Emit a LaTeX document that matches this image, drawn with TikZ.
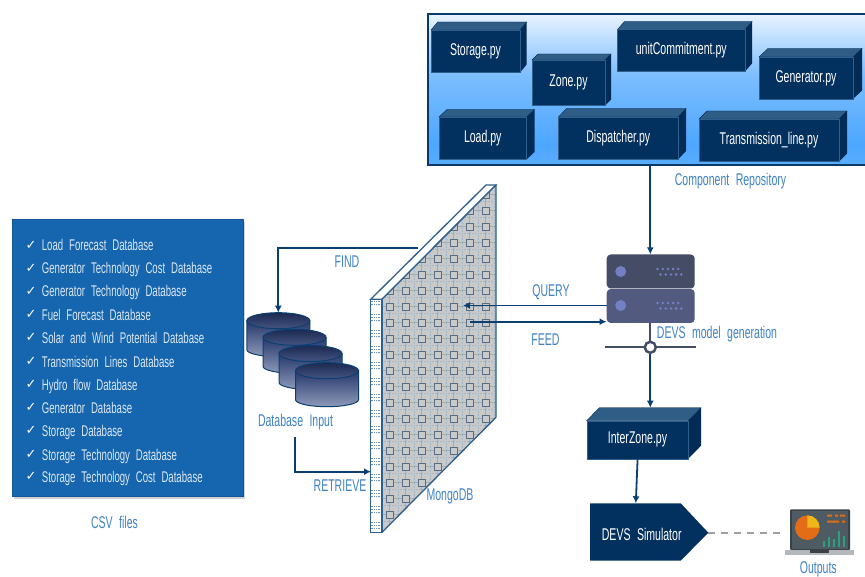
\documentclass[tikz,border=0pt]{standalone}
\usepackage{fontspec}
\setmainfont{Liberation Sans}[FakeStretch=0.62,WordSpace=2.2]
\usetikzlibrary{arrows.meta,shadows}
\definecolor{navy}{HTML}{03315F}
\definecolor{navytop}{HTML}{2F5D85}
\definecolor{navyside}{HTML}{022B55}
\definecolor{linkblue}{HTML}{0B3F72}
\definecolor{labelblue}{HTML}{3F82C6}
\definecolor{wallblue}{HTML}{2F5F8C}
\definecolor{csvblue}{HTML}{1565AF}
\definecolor{serverA}{HTML}{454C66}
\definecolor{serverB}{HTML}{525A80}
\definecolor{serverdot}{HTML}{7480C4}
\definecolor{cylL}{HTML}{8E9ABA}
\definecolor{cylD}{HTML}{25376A}
\definecolor{barcol}{HTML}{2AA07E}
\definecolor{screencol}{HTML}{4F5B62}
\definecolor{framecol}{HTML}{3A4248}
\definecolor{baseG}{HTML}{B4B8BC}
\definecolor{pieO}{HTML}{E36C17}
\definecolor{pieY}{HTML}{EEB717}
\definecolor{repoA}{HTML}{5AAEFF}
\definecolor{repoB}{HTML}{4DA6FF}
\definecolor{repoC}{HTML}{7DBEFF}
\definecolor{repoD}{HTML}{E8F3FF}
\pgfdeclareverticalshading{reposhade}{100bp}{color(0bp)=(repoA); color(25bp)=(repoA); color(32bp)=(repoB); color(55bp)=(repoC); color(75bp)=(repoD); color(100bp)=(repoD)}
\tikzset{
 link/.style={draw=linkblue,line width=1.8pt,-{Latex[length=7pt,width=7pt]}},
 lbl/.style={text=labelblue,font=\fontsize{17}{18}\selectfont,inner sep=0pt},
 pyt/.style={text=white,font=\fontsize{17}{18}\selectfont,inner sep=0pt},
 csvt/.style={text=white!85!csvblue,font=\fontsize{15.5}{16}\selectfont,inner sep=0pt,anchor=west},
 chk/.style={text=white,font=\fontsize{13}{14}\selectfont,inner sep=0pt},
 cyl/.style={draw=linkblue,line width=1pt,bottom color=cylL,top color=cylD}
}
\newfontfamily\dejavu{DejaVu Sans}
\newcommand{\boxthree}[8]{%
 \fill[navytop,draw=navyside,line width=.4pt] (#1,#2) -- (#1+#5,#2-#6) -- (#3+#5,#2-#6) -- (#3,#2) -- cycle;
 \fill[navyside] (#3,#2) -- (#3+#5,#2-#6) -- (#3+#5,#4-#6) -- (#3,#4) -- cycle;
 \node[fill=navy,draw=wallblue,line width=.4pt,minimum width={(#3-#1)*1pt},minimum height={(#4-#2)*1pt},pyt] (#7) at ({(#1+#3)/2},{(#2+#4)/2}) {\raisebox{-1.5pt}{#8}};
}
\newcommand{\cylstack}[3]{%
 \path[cyl] (#1-31.5,#2) -- (#1-31.5,#2+29) arc[x radius=31.5,y radius=7,start angle=180,end angle=0] -- (#1+31.5,#2) -- cycle;
 \draw[linkblue,line width=1pt,top color=cylD!75!black,bottom color=cylD!70!cylL] (#1,#2) ellipse[x radius=31.5,y radius=8];
 \coordinate (#3) at (#1,#2-8);
}
\begin{document}
\begin{tikzpicture}[x=1pt,y=-1pt]
\useasboundingbox (0,0) rectangle (865,577);
\fill[white] (0,0) rectangle (865,577);
% repository
\node[inner sep=0pt,minimum width=438pt,minimum height=151pt,draw=linkblue!90!black,line width=2pt,
 shade,shading=reposhade,anchor=north west] (repo) at (426.5,13.5) {};
\boxthree{431}{30}{520}{72.5}{6.7}{8}{storage}{Storage.py}
\boxthree{532}{60}{605}{105.5}{6}{6}{zone}{Zone.py}
\boxthree{617.5}{29.5}{745}{71.5}{7}{8}{unit}{unitCommitment.py}
\boxthree{759}{57}{853}{99}{9}{8.5}{generator}{Generator.py}
\boxthree{439}{117}{526.5}{159.5}{8}{7.5}{loadpy}{Load.py}
\boxthree{558.5}{117}{678}{159.5}{8}{8.5}{dispatcher}{Dispatcher.py}
\boxthree{699}{119}{839}{161.5}{8}{8}{transline}{Transmission\_line.py}
\node[lbl] (repolabel) at (730.5,181.5) {Component Repository};
% CSV
\node[fill=csvblue,draw=csvblue!70!navy,line width=1pt,minimum width=231pt,minimum height=276.5pt,inner sep=0pt,anchor=north west,drop shadow={shadow xshift=1.5pt,shadow yshift=-2pt,opacity=.35}] (csv) at (11.7,219.5) {};
\foreach \yy/\lab in {246/Load Forecast Database,269/Generator Technology Cost Database,292/Generator Technology Database,315.3/Fuel Forecast Database,338.7/Solar and Wind Potential Database,362/Transmission Lines Database,385.3/Hydro flow Database,408.3/Generator Database,431.7/Storage Database,455/Storage Technology Database,477.7/Storage Technology Cost Database}{
 \node[chk] at (31,\yy-1) {\dejavu ✓};
 \node[csvt,anchor=base west] at (41.7,\yy+5) {\lab};
}
\node[lbl] (csvlabel) at (114.5,522.5) {CSV files};
% cylinders
\cylstack{278.3}{320.7}{cA}
\cylstack{294.5}{337.3}{cB}
\cylstack{310.5}{353.5}{cC}
\cylstack{327}{370.7}{cD}
\node[lbl] (dblabel) at (295.5,422) {Database Input};
% wall
\fill[white,draw=wallblue,line width=1.3pt] (370.7,299.3) -- (382,299.3) -- (496,185) -- (486,185) -- cycle;
\fill[gray!42] (382,299.3) -- (496,185) -- (496,417.3) -- (382,532.3) -- cycle;
\begin{scope}
 \clip (382,299.3) -- (496,185) -- (496,417.3) -- (382,532.3) -- cycle;
 \foreach \r in {0,...,22}{
  \draw[wallblue!30!gray!60,line width=1pt] (382,{194.5+\r*16}) -- (496,{194.5+\r*16});
  \draw[wallblue!45,densely dotted,line width=.6pt] (382,{185+\r*16}) -- (496,{185+\r*16});
 }
 \foreach \c in {0,...,7}{
  \draw[wallblue!30!gray!60,line width=1pt] ({389.5+\c*16},185) -- ({389.5+\c*16},540);
  \draw[wallblue!45,densely dotted,line width=.6pt] ({382+\c*16},185) -- ({382+\c*16},540);
 }
 \foreach \r in {0,...,22}{
  \foreach \c in {0,...,7}{
   \draw[wallblue!55!gray,fill=gray!42,line width=.9pt] ({386+\c*16},{191+\r*16}) rectangle +(7,7);
  }
 }
\end{scope}
\fill[white] (370.7,299.3) rectangle (382,532.3);
\begin{scope}
 \clip (370.7,299.3) rectangle (382,532.3);
 \foreach \r in {0,...,15}{
  \draw[wallblue!70,densely dotted,line width=.7pt] (370.7,{301+\r*16}) -- (382,{301+\r*16});
  \draw[wallblue!70,densely dotted,line width=.7pt] (370.7,{304+\r*16}) -- (382,{304+\r*16});
  \draw[wallblue!70,densely dotted,line width=.7pt] (370.7,{314+\r*16}) -- (382,{314+\r*16});
 }
\end{scope}
\draw[wallblue,line width=1.3pt,line join=round] (370.7,299.3) rectangle (382,532.3);
\draw[wallblue,line width=1.3pt,line join=round] (382,299.3) -- (496,185) -- (496,417.3) -- (382,532.3);
\coordinate (wallfind) at (418,248.3);
\coordinate (wallquery) at (463,305.5);
\coordinate (wallfeed) at (470,321.7);
\coordinate (wallretr) at (371,471.7);
\coordinate (dbout) at (295,436.5);
\node[lbl] (mongo) at (450,496.5) {MongoDB};
% server
\node[fill=serverA,rounded corners=4pt,minimum width=88pt,minimum height=34pt,inner sep=0pt] (srvtop) at (650.7,271.5) {};
\node[fill=serverB,rounded corners=4pt,minimum width=88pt,minimum height=34pt,inner sep=0pt] (srv) at (650.7,306) {};
\fill[serverdot] (620.7,271.5) circle (5.5pt) (620.7,305.5) circle (5.5pt);
\foreach \oy in {0,34}{
 \foreach \k in {0,...,4}{
  \fill[serverdot] ({657.5+\k*5.2},{269+\oy}) circle (1.4pt);
  \fill[serverdot] ({660.5+\k*5.2},{274.5+\oy}) circle (1.4pt);
 }
}
\draw[serverA,line width=2pt] (605,347.3) -- (696,347.3);
\node[circle,fill=white,draw=serverA,line width=2.5pt,minimum size=11pt,inner sep=0pt] (joint) at (650.3,347.3) {};
\draw[serverA,line width=2pt] (srv.south -| joint.north) -- (joint.north);
\node[lbl] (devsgen) at (717,334) {DEVS model generation};
% connectors
\draw[link] (repo.south -| joint.north) -- (srvtop.north -| joint.north);
\draw[link] (wallfind) -| (cA);
\draw[link] (dbout) |- (wallretr);
\draw[link] (srv.west |- wallquery) -- (wallquery);
\draw[link] (wallfeed) -- (srv.west |- wallfeed);
\node[lbl] (find) at (347,262) {FIND};
\node[lbl] (retrieve) at (340,486) {RETRIEVE};
\node[lbl] (query) at (551,292) {QUERY};
\node[lbl] (feed) at (545.5,340) {FEED};
% interzone
\boxthree{586.7}{420.7}{688.3}{458.7}{12.7}{13}{inter}{InterZone.py}
\coordinate (interin) at (650.3,407.7);
\draw[link] (joint) -- (interin);
% simulator
\fill[navy] (590,503.3) -- (680.7,503.3) -- (708.3,532.7) -- (680.7,560.7) -- (590,560.7) -- cycle;
\node[pyt] (simtxt) at (641.7,534) {DEVS Simulator};
\coordinate (simtip) at (708.3,532.7);
\coordinate (simin) at (635.8,503.3);
\coordinate (interout) at (637.6,458.7);
\draw[link] (interout) -- (simin);
% laptop
\coordinate (lap) at (785,532.7);
\draw[gray!75,line width=2pt,dash pattern=on 7pt off 6pt] (simtip) -- (lap);
\fill[framecol,rounded corners=1pt] (790,509.3) rectangle (850,550);
\fill[screencol] (792,511) rectangle (848,549);
\fill[baseG] (785.3,550) rectangle (854,555.3);
\fill[framecol] (810,550) rectangle (829,552.5);
\fill[pieO] (807.3,527.7) circle (12.3pt);
\fill[pieY] (807.3,527.7) -- (807.3,515.4) arc[start angle=90,end angle=0,radius=12.3pt] -- cycle;
\foreach \xx/\hh in {824.3/6,829.3/10,834.3/8,839.3/16,844/11}{\fill[barcol] (\xx-1,547-\hh) rectangle (\xx+1,547);}
\fill[pieO] (827,514.5) rectangle (832,516.5) (835,514.5) rectangle (838,516.5) (840,514.5) rectangle (845,516.5);
\fill[pieO] (827,520.5) rectangle (839,522.5) (842,520.5) rectangle (845,522.5);
\node[lbl] (outputs) at (818.3,569.5) {Outputs};
\end{tikzpicture}
\end{document}
